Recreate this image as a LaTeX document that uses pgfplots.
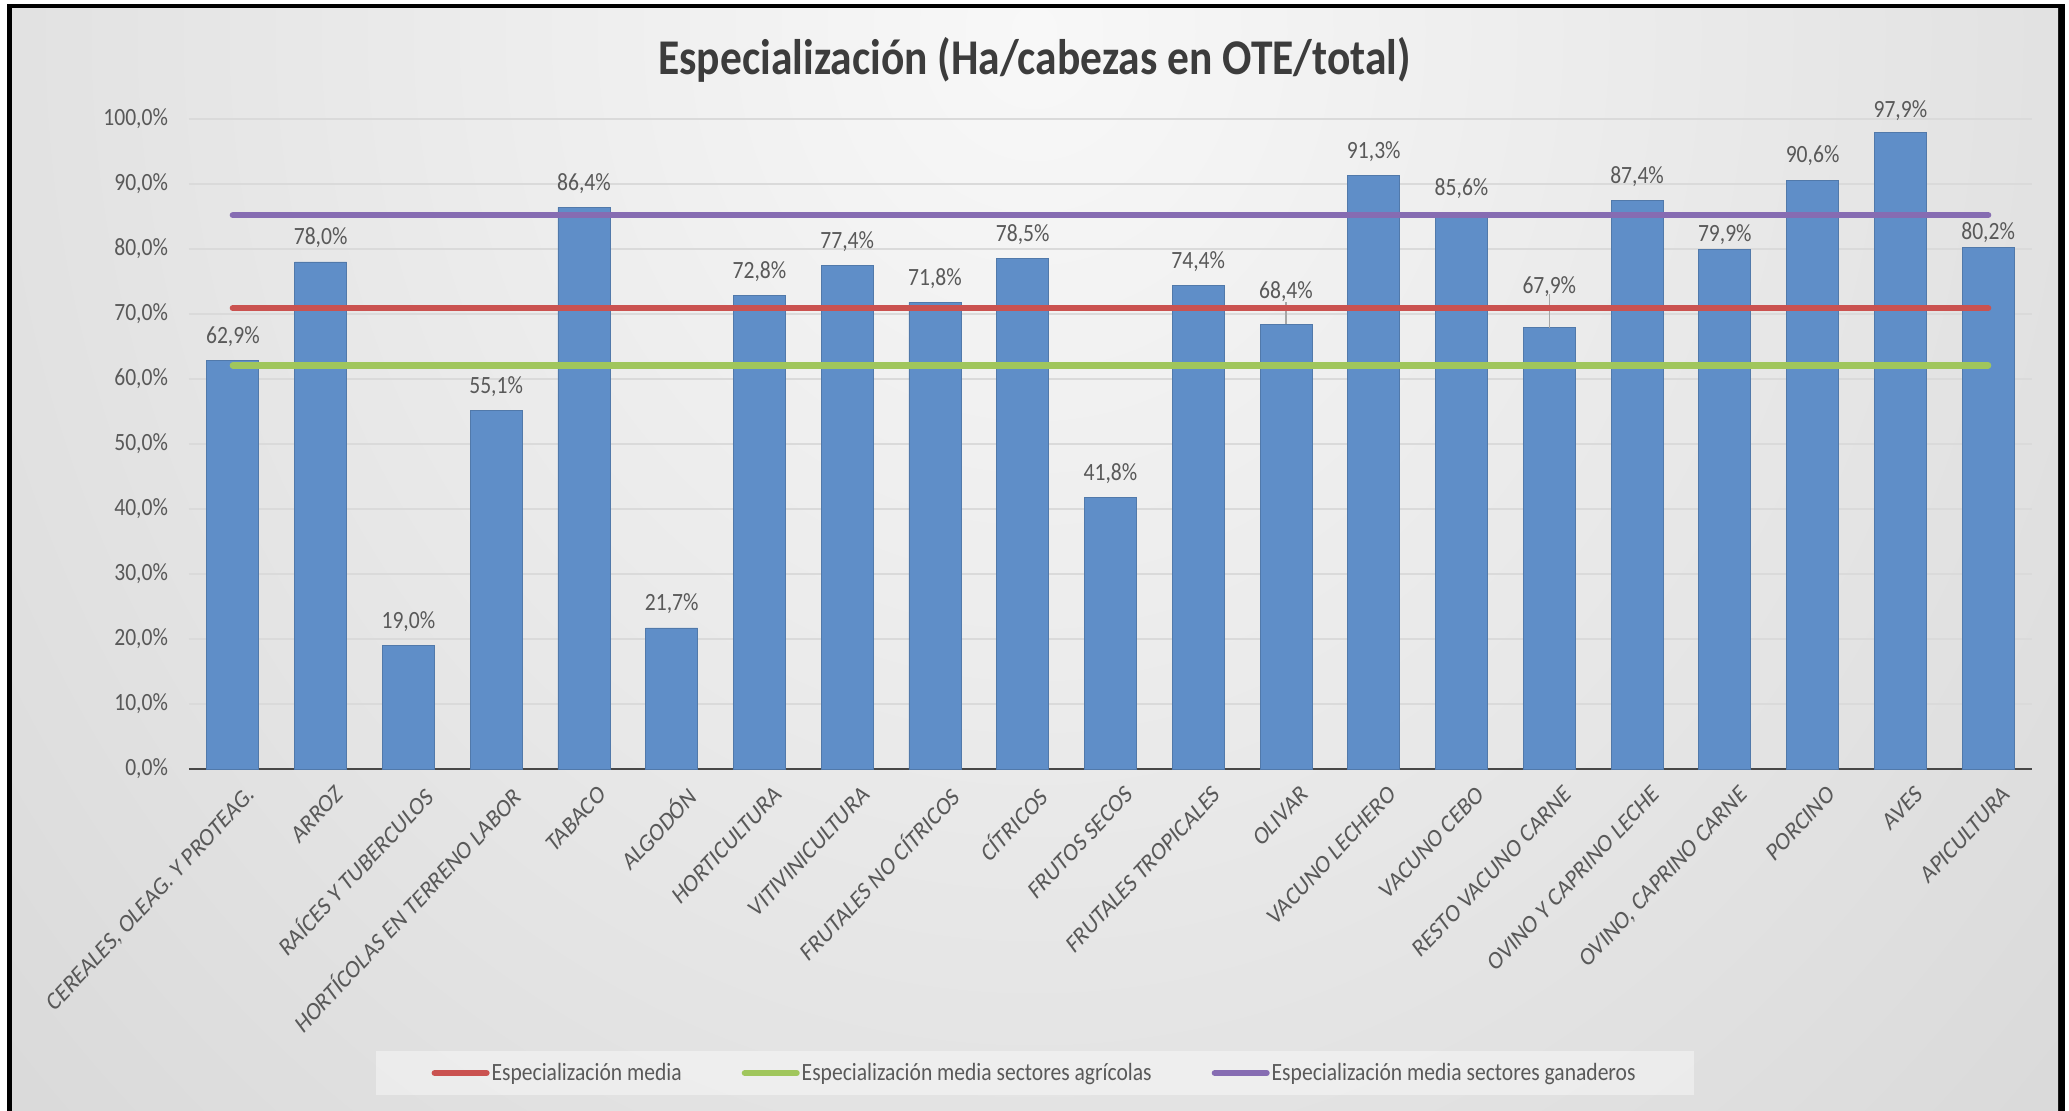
\documentclass[border=0pt]{standalone}
\usepackage{pgfplots}
\pgfplotsset{compat=1.18}
\usepackage{pgfplotstable}
\usepackage{fontspec}
\setmainfont{Carlito}[FakeStretch=0.87]
\newfontfamily\lblfont{Carlito}[FakeSlant=0.18]
\definecolor{barblue}{RGB}{95,142,200}
\definecolor{lred}{RGB}{202,82,80}
\definecolor{lgreen}{RGB}{160,198,92}
\definecolor{lpurple}{RGB}{134,108,178}
\definecolor{txtgray}{RGB}{89,89,89}
\definecolor{titlegray}{RGB}{60,60,60}
\definecolor{gridgray}{RGB}{218,218,218}
\definecolor{bgout}{RGB}{198,198,198}
\definecolor{bgin}{RGB}{248,248,248}

\pgfplotstableread{
x y off
0 62.9 12
1 78.0 12
2 19.0 12
3 55.1 12
4 86.4 12
5 21.7 12
6 72.8 12
7 77.4 12
8 71.8 12
9 78.5 12
10 41.8 12
11 74.4 12
12 68.4 16.5
13 91.3 12
14 85.6 12
15 67.9 20.5
16 87.4 12
17 79.9 7.5
18 90.6 12
19 97.9 11
20 80.2 7.5
}\datatable

\begin{document}
\begin{tikzpicture}
\fill[white] (0,0) rectangle (1034.5pt,555.5pt);
\fill[black] (3.5pt,0) rectangle (1032.5pt,553.5pt);
\begin{scope}
\clip (6pt,0) rectangle (1029pt,551pt);
\shade[inner color=bgin, outer color=bgout] (517pt,540pt) ellipse (1150pt and 1300pt);
\end{scope}
\begin{axis}[
  at={(94.5pt,171pt)}, anchor=south west,
  scale only axis, width=921.5pt, height=325pt,
  xmin=-0.5, xmax=20.5, ymin=0, ymax=100,
  separate axis lines,
  axis x line*=bottom, axis y line*=left,
  x axis line style={draw=black!72, line width=1.4pt},
  y axis line style={draw=none},
  major tick length=0pt,
  ytick={0,10,...,100},
  ymajorgrids, grid style={gridgray, line width=0.8pt},
  /pgf/number format/assume math mode=true,
  yticklabel={\pgfmathprintnumber[fixed,fixed zerofill,precision=1,use comma]{\tick}\%},
  yticklabel style={font=\fontsize{12.4}{14}\selectfont, text=txtgray, xshift=-7pt},
  xtick={0,...,20},
  xticklabels={{CEREALES, OLEAG. Y PROTEAG.},ARROZ,RAÍCES Y TUBERCULOS,HORTÍCOLAS EN TERRENO LABOR,TABACO,ALGODÓN,HORTICULTURA,VITIVINICULTURA,FRUTALES NO CÍTRICOS,CÍTRICOS,FRUTOS SECOS,FRUTALES TROPICALES,OLIVAR,VACUNO LECHERO,VACUNO CEBO,RESTO VACUNO CARNE,OVINO Y CAPRINO LECHE,{OVINO, CAPRINO CARNE},PORCINO,AVES,APICULTURA},
  xticklabel style={font=\lblfont\fontsize{11.8}{14}\selectfont, text=txtgray, rotate=47, anchor=north east, xshift=-1pt, yshift=-9pt, inner sep=1pt},
  clip=false,
  title={Especialización (Ha/cabezas en OTE/total)},
  title style={at={(0.4588,1.0720)}, anchor=center, font=\bfseries\fontsize{25}{28}\selectfont, text=titlegray},
  legend columns=3,
  legend style={at={(0.4588,-0.4677)}, anchor=center, draw=none, fill=white, fill opacity=0.4, text opacity=1,
    font=\fontsize{12.4}{14}\selectfont, text=txtgray, inner xsep=28pt, inner ysep=3pt,
    nodes={inner xsep=1pt, inner ysep=3pt},
    /tikz/every even column/.append style={column sep=29pt}},
  legend image code/.code={\draw[#1, line width=3pt] (0pt,0pt) -- (26pt,0pt);},
]
\addplot[ybar, bar width=26pt, fill=barblue, draw=barblue!85!black, line width=0.4pt, forget plot,
  point meta=y,
  nodes near coords={\pgfmathprintnumber[fixed,fixed zerofill,precision=1,use comma]{\pgfplotspointmeta}\%},
  visualization depends on={\thisrow{off} \as \myoff},
  every node near coord/.append style={anchor=center, yshift=\myoff pt, font=\fontsize{12.4}{14}\selectfont, text=txtgray}]
  table[x=x,y=y]{\datatable};
\addplot[gray!70, line width=0.6pt, forget plot] coordinates {(12,68.4) (12,71.9)};
\addplot[gray!70, line width=0.6pt, forget plot] coordinates {(15,67.9) (15,73.1)};
\addplot[lred, line width=3.2pt, line cap=round] coordinates {(0,70.9) (20,70.9)};
\addlegendentry{Especialización media}
\addplot[lgreen, line width=3.2pt, line cap=round] coordinates {(0,62.1) (20,62.1)};
\addlegendentry{Especialización media sectores agrícolas}
\addplot[lpurple, line width=3.2pt, line cap=round] coordinates {(0,85.2) (20,85.2)};
\addlegendentry{Especialización media sectores ganaderos}
\end{axis}
\pgfresetboundingbox
\useasboundingbox (0,0) rectangle (1034.5pt,555.5pt);
\end{tikzpicture}
\end{document}
